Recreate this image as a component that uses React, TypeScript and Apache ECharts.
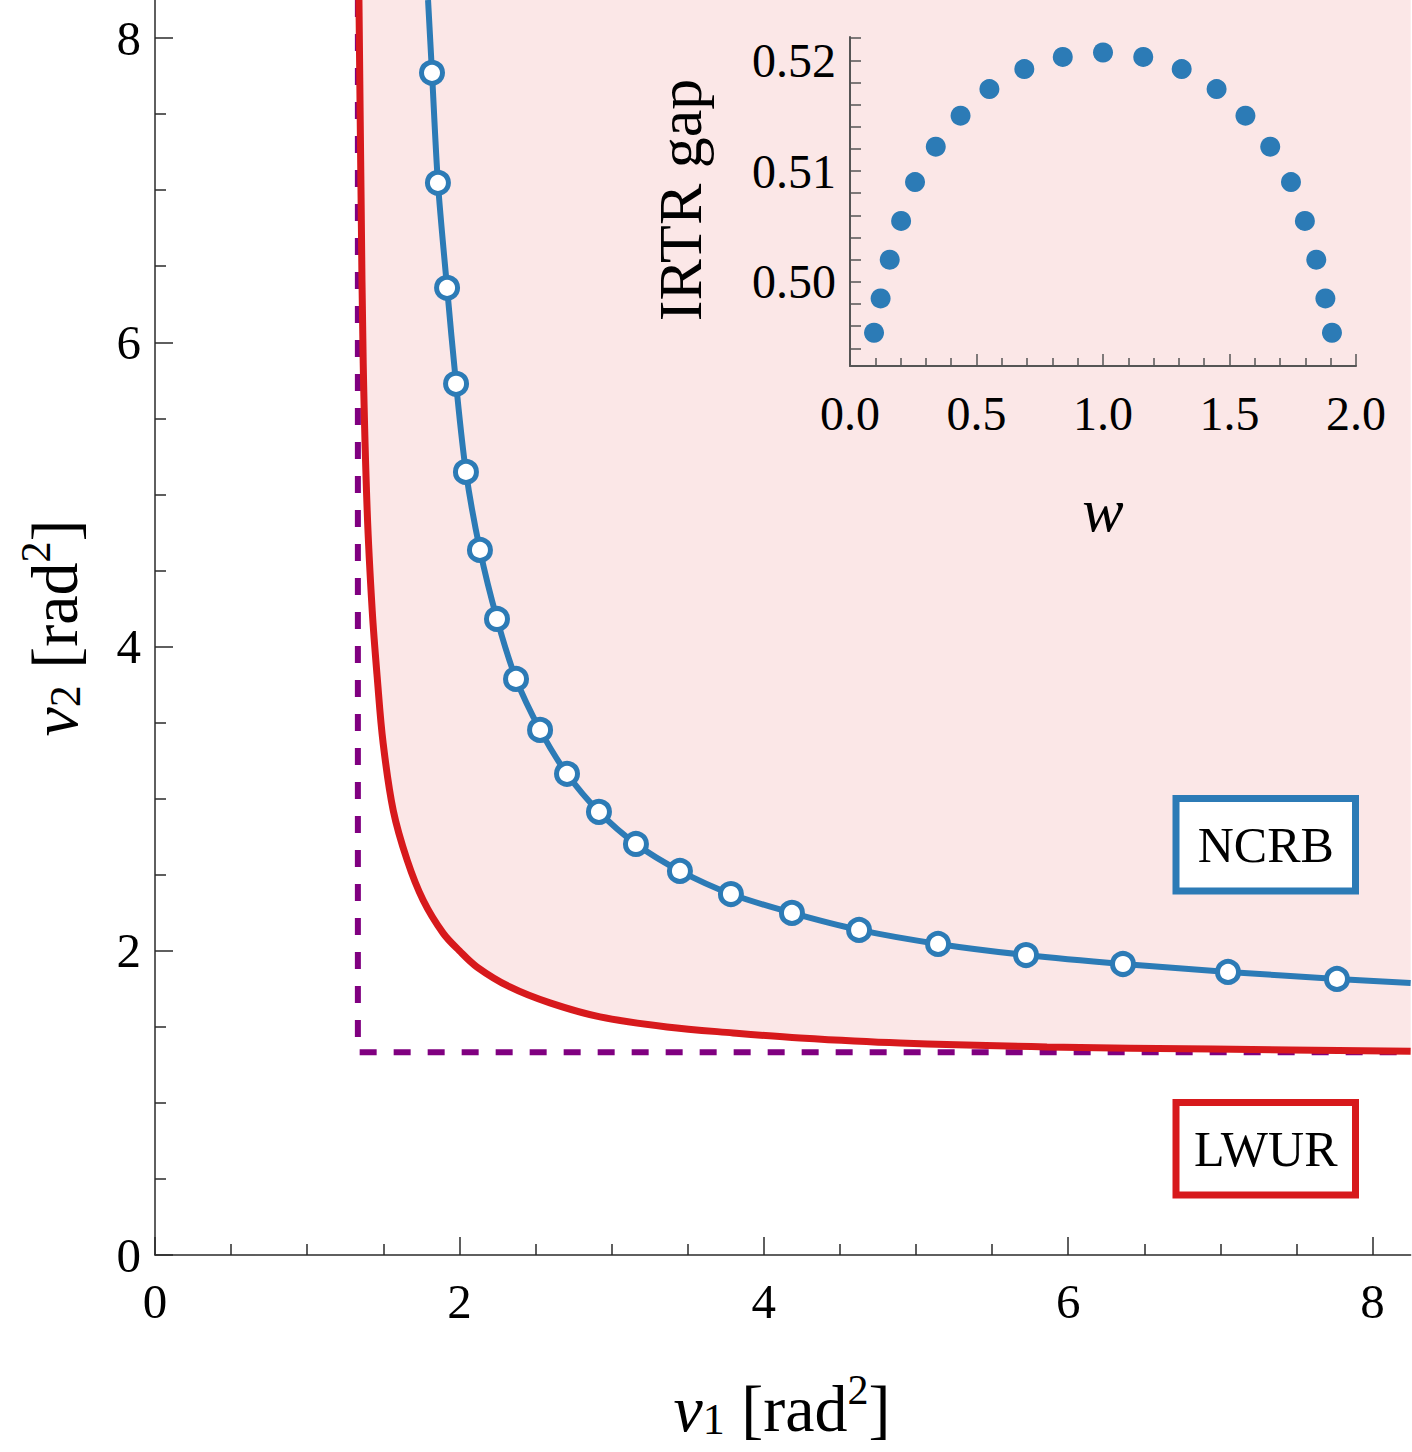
import React, { useEffect, useRef } from "react";
import * as echarts from "echarts";

// ---- data ----
const lwurV1 = [1.34, 1.354, 1.368, 1.394, 1.427, 1.46, 1.499, 1.565, 1.657, 1.762, 1.893, 2.0, 2.116, 2.332, 2.595, 2.924, 3.364, 3.798, 4.238, 4.895, 5.861, 6.951, 8.25];
const lwurV2 = [8.25, 6.951, 5.861, 4.895, 4.238, 3.798, 3.364, 2.924, 2.595, 2.332, 2.116, 2.0, 1.893, 1.762, 1.657, 1.565, 1.499, 1.46, 1.427, 1.394, 1.368, 1.354, 1.34];

const ncrbV1 = [1.794, 1.82, 1.859, 1.919, 1.978, 2.043, 2.135, 2.247, 2.372, 2.53, 2.707, 2.917, 3.16, 3.449, 3.784, 4.185, 4.626, 5.145, 5.723, 6.36, 7.05, 7.766, 8.25];
const ncrbV2 = [8.25, 7.771, 7.048, 6.358, 5.727, 5.148, 4.635, 4.181, 3.787, 3.452, 3.163, 2.913, 2.702, 2.525, 2.373, 2.249, 2.137, 2.045, 1.972, 1.913, 1.861, 1.815, 1.788];
const ncrbMarkerIdx = [1, 2, 3, 4, 5, 6, 7, 8, 9, 10, 11, 12, 13, 14, 15, 16, 17, 18, 19, 20, 21];

const boundV1 = [1.333, 1.333, 8.25];
const boundV2 = [8.25, 1.333, 1.333];

const insetW = [0.095, 0.121, 0.157, 0.202, 0.257, 0.339, 0.437, 0.551, 0.689, 0.841, 1.0, 1.159, 1.311, 1.449, 1.563, 1.661, 1.743, 1.798, 1.843, 1.879, 1.905];
const insetGap = [0.4954, 0.4985, 0.502, 0.5055, 0.509, 0.5122, 0.515, 0.5174, 0.5192, 0.5203, 0.5207, 0.5203, 0.5192, 0.5174, 0.515, 0.5122, 0.509, 0.5055, 0.502, 0.4985, 0.4954];

const mainMajorTicks = [0, 2, 4, 6, 8];
const mainMinorTicks = [0.5, 1, 1.5, 2.5, 3, 3.5, 4.5, 5, 5.5, 6.5, 7, 7.5];
const insetXMajor = [0, 0.5, 1.0, 1.5, 2.0];
const insetXMinor = [0.1, 0.2, 0.3, 0.4, 0.6, 0.7, 0.8, 0.9, 1.1, 1.2, 1.3, 1.4, 1.6, 1.7, 1.8, 1.9];
const insetYTicks = [0.494, 0.496, 0.498, 0.5, 0.502, 0.504, 0.506, 0.508, 0.51, 0.512, 0.514, 0.516, 0.518, 0.52, 0.522];
const insetYLabels = [0.5, 0.51, 0.52];

const BLUE = "#2c7bb6";
const RED = "#d7191c";
const PURPLE = "#800080";
const PINK = "#fbe7e7";
const FONT = "Liberation Serif";

export default function App() {
  const ref = useRef<HTMLDivElement>(null);
  useEffect(() => {
    document.body.style.margin = "0";
    const chart = echarts.init(ref.current!, null, { renderer: "svg" });
    const zip = (a: number[], b: number[]) => a.map((v, i) => [v, b[i]]);
    const axisColor = "#2a2a2a";
    const insetColor = "#555";

    const mkAxis = (extra: any) => ({
      type: "value",
      splitLine: { show: false },
      z: 20,
      ...extra,
    });

    const titleRich = {
      v: { fontFamily: FONT, fontStyle: "italic", fontSize: 66, lineHeight: 84, verticalAlign: "bottom", fill: "#000" },
      s: { fontFamily: FONT, fontSize: 44, lineHeight: 44, verticalAlign: "bottom", fill: "#000" },
      t: { fontFamily: FONT, fontSize: 66, lineHeight: 84, verticalAlign: "bottom", fill: "#000" },
      p: { fontFamily: FONT, fontSize: 42, lineHeight: 44, verticalAlign: "top", padding: [12, 0, 0, 0], fill: "#000" },
    };

    const option: any = {
      animation: false,
      backgroundColor: "#fff",
      grid: [
        { left: 155, right: 1412 - 155 - 8.25 * 152.2, top: 0, bottom: 197, containLabel: false },
        { left: 850, top: 37, width: 506, height: 329, containLabel: false },
      ],
      xAxis: [
        mkAxis({
          gridIndex: 0, min: 0, max: 8.25, position: "bottom",
          axisLine: { show: true, lineStyle: { color: axisColor, width: 1.5 } },
          axisTick: { show: true, inside: true, length: 11, customValues: mainMinorTicks, lineStyle: { color: axisColor, width: 1.5 } },
          axisLabel: { show: false },
        }),
        mkAxis({
          gridIndex: 0, min: 0, max: 8.25, position: "bottom",
          axisLine: { show: false },
          axisTick: { show: true, inside: true, length: 18, customValues: mainMajorTicks, lineStyle: { color: axisColor, width: 1.5 } },
          axisLabel: { show: true, customValues: mainMajorTicks, margin: 22, fontFamily: FONT, fontSize: 49, color: "#000", formatter: (v: number) => String(v) },
        }),
        mkAxis({
          gridIndex: 1, min: 0, max: 2, position: "bottom",
          axisLine: { show: true, lineStyle: { color: insetColor, width: 2 } },
          axisTick: { show: true, inside: true, length: 8, customValues: insetXMinor, lineStyle: { color: insetColor, width: 1.5 } },
          axisLabel: { show: false },
        }),
        mkAxis({
          gridIndex: 1, min: 0, max: 2, position: "bottom",
          axisLine: { show: false },
          axisTick: { show: true, inside: true, length: 12, customValues: insetXMajor, lineStyle: { color: insetColor, width: 1.5 } },
          axisLabel: { show: true, customValues: insetXMajor, margin: 23, fontFamily: FONT, fontSize: 48, color: "#000", formatter: (v: number) => v.toFixed(1) },
        }),
      ],
      yAxis: [
        mkAxis({
          gridIndex: 0, min: 0, max: 8.25, position: "left",
          axisLine: { show: true, lineStyle: { color: axisColor, width: 1.5 } },
          axisTick: { show: true, inside: true, length: 11, customValues: mainMinorTicks, lineStyle: { color: axisColor, width: 1.5 } },
          axisLabel: { show: false },
        }),
        mkAxis({
          gridIndex: 0, min: 0, max: 8.25, position: "left",
          axisLine: { show: false },
          axisTick: { show: true, inside: true, length: 18, customValues: mainMajorTicks, lineStyle: { color: axisColor, width: 1.5 } },
          axisLabel: { show: true, customValues: mainMajorTicks, margin: 14, fontFamily: FONT, fontSize: 49, color: "#000", formatter: (v: number) => String(v) },
        }),
        mkAxis({
          gridIndex: 1, min: 0.4924, max: 0.5221, position: "left",
          axisLine: { show: true, lineStyle: { color: insetColor, width: 2 } },
          axisTick: { show: true, inside: true, length: 11, customValues: insetYTicks, lineStyle: { color: insetColor, width: 1.5 } },
          axisLabel: { show: true, customValues: insetYLabels, margin: 14, fontFamily: FONT, fontSize: 48, color: "#000", formatter: (v: number) => v.toFixed(2) },
        }),
      ],
      series: [
        {
          name: "region", type: "line", xAxisIndex: 0, yAxisIndex: 0,
          data: zip(lwurV1, lwurV2), smooth: 0.35, showSymbol: false, symbol: "none",
          lineStyle: { width: 0, opacity: 0 },
          areaStyle: { origin: "end", color: PINK, opacity: 1 },
          z: 0, silent: true,
        },
        {
          name: "bound", type: "line", xAxisIndex: 0, yAxisIndex: 0,
          data: zip(boundV1, boundV2), symbol: "none",
          lineStyle: { color: PURPLE, width: 6, type: [17, 17] },
          z: 2,
        },
        {
          name: "LWUR", type: "line", xAxisIndex: 0, yAxisIndex: 0,
          data: zip(lwurV1, lwurV2), smooth: 0.35, symbol: "none",
          lineStyle: { color: RED, width: 7 },
          z: 3,
        },
        {
          name: "NCRB", type: "line", xAxisIndex: 0, yAxisIndex: 0,
          data: zip(ncrbV1, ncrbV2), smooth: 0.3, symbol: "none",
          lineStyle: { color: BLUE, width: 6 },
          z: 4,
        },
        {
          name: "NCRB points", type: "scatter", xAxisIndex: 0, yAxisIndex: 0,
          data: ncrbMarkerIdx.map((i) => [ncrbV1[i], ncrbV2[i]]),
          symbol: "circle", symbolSize: 21,
          itemStyle: { color: "#fff", borderColor: BLUE, borderWidth: 5, opacity: 1 },
          z: 5,
        },
        {
          name: "IRTR gap", type: "scatter", xAxisIndex: 2, yAxisIndex: 2,
          data: zip(insetW, insetGap), symbol: "circle", symbolSize: 20,
          itemStyle: { color: BLUE, opacity: 1 },
          z: 25,
        },
      ],
      graphic: [
        { type: "rect", z: 100, shape: { x: 1176, y: 798.5, width: 179.5, height: 92.5 }, style: { fill: "#fff", stroke: BLUE, lineWidth: 7 } },
        { type: "text", z: 101, x: 1265.75, y: 845, style: { text: "NCRB", fontFamily: FONT, fontSize: 50, fill: "#000", align: "center", verticalAlign: "middle" } },
        { type: "rect", z: 100, shape: { x: 1176, y: 1102.5, width: 179.5, height: 92.5 }, style: { fill: "#fff", stroke: RED, lineWidth: 7 } },
        { type: "text", z: 101, x: 1265.75, y: 1149, style: { text: "LWUR", fontFamily: FONT, fontSize: 50, fill: "#000", align: "center", verticalAlign: "middle" } },
        {
          type: "text", x: 782, y: 1399, z: 100,
          style: { text: "{v|v}{s|1}{t| [rad}{p|2}{t|]}", align: "center", verticalAlign: "middle", rich: titleRich },
        },
        {
          type: "text", x: 45, y: 628, rotation: Math.PI / 2, z: 100,
          style: { text: "{v|v}{s|2}{t| [rad}{p|2}{t|]}", align: "center", verticalAlign: "middle", rich: titleRich },
        },
        {
          type: "text", x: 680, y: 200, rotation: Math.PI / 2, z: 100,
          style: { text: "IRTR gap", fontFamily: FONT, fontSize: 62, fill: "#000", align: "center", verticalAlign: "middle" },
        },
        {
          type: "text", x: 1103, y: 510, z: 100,
          style: { text: "w", fontFamily: FONT, fontStyle: "italic", fontSize: 62, fill: "#000", align: "center", verticalAlign: "middle" },
        },
      ],
    };
    chart.setOption(option);
    return () => chart.dispose();
  }, []);
  return <div ref={ref} style={{ width: 1412, height: 1452 }} />;
}
